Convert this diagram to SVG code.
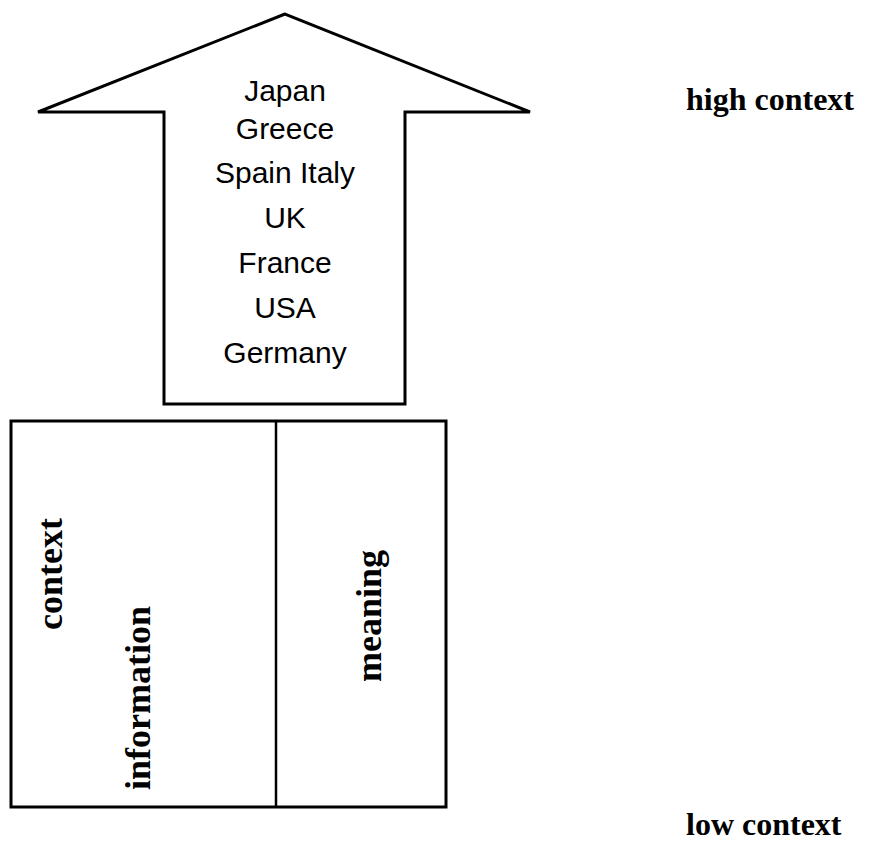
<svg xmlns="http://www.w3.org/2000/svg" width="886" height="843" viewBox="0 0 886 843">
<style>
.shape{fill:#fff;stroke:#000;stroke-width:3;stroke-linejoin:miter}
.sans{font-family:"Liberation Sans",Arial,sans-serif;font-size:30px;fill:#000;text-anchor:middle}
.serif{font-family:"Liberation Serif","Times New Roman",serif;font-size:36px;font-weight:bold;fill:#000}
.side{font-size:32px}
</style>
<rect width="886" height="843" fill="#fff"/>
<g id="arrow">
<polygon class="shape" points="285,14 38,112 164,112 164,404 405,404 405,112 530,112"/>
<text class="sans" x="285" y="101">Japan</text>
<text class="sans" x="285" y="139">Greece</text>
<text class="sans" x="285" y="183">Spain Italy</text>
<text class="sans" x="285" y="228">UK</text>
<text class="sans" x="285" y="273">France</text>
<text class="sans" x="285" y="318">USA</text>
<text class="sans" x="285" y="363">Germany</text>
</g>
<g id="box">
<rect class="shape" x="11" y="421" width="435" height="386"/>
<line x1="276" y1="421" x2="276" y2="807" stroke="#000" stroke-width="2.5"/>
<text class="serif" transform="translate(62,630) rotate(-90)">context</text>
<text class="serif" transform="translate(150,790) rotate(-90)">information</text>
<text class="serif" transform="translate(381,682) rotate(-90)">meaning</text>
</g>
<g id="labels">
<text class="serif side" x="686" y="110">high context</text>
<text class="serif side" x="686" y="835">low context</text>
</g>
</svg>
